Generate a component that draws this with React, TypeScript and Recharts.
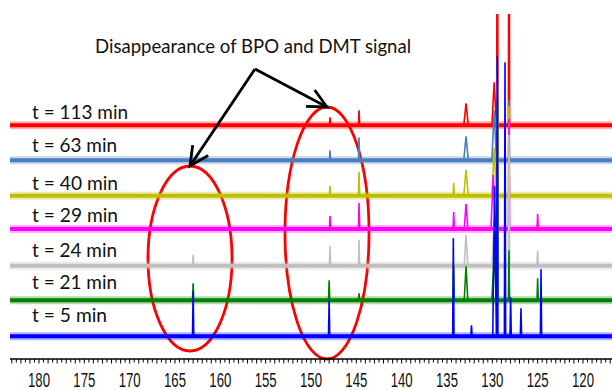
import React from 'react';
import {
  ComposedChart,
  Line,
  XAxis,
  YAxis,
  ReferenceArea,
  ReferenceLine,
  ReferenceDot,
} from 'recharts';

// ---- data ----
const SPECTRUM_NAMES = ['t = 113 min', 't = 63 min', 't = 40 min', 't = 29 min', 't = 24 min', 't = 21 min', 't = 5 min'];
const SPECTRUM_COLORS = ['#FF0000', '#4A7EBF', '#BFBF00', '#FF00FF', '#C0C0C0', '#008000', '#0000FF'];
// stacking offsets (baseline of each trace, y units)
const BASELINES = [233.7, 198.7, 163.3, 130, 93.3, 58.7, 22.7];

// peaks: [ppm, height, half line width in ppm]
const PEAKS_113 = [[147.9, 8, 0.07], [144.7, 15, 0.07], [132.9, 22, 0.25], [129.8, 43, 0.25], [129.45, 400, 0.07], [128.16, 400, 0.07]];
const PEAKS_63 = [[147.9, 10, 0.07], [144.7, 23, 0.07], [132.9, 24, 0.25], [129.8, 50, 0.25], [129.45, 100, 0.07], [128.16, 60, 0.07]];
const PEAKS_40 = [[147.9, 10, 0.07], [144.7, 24, 0.07], [134.26, 13, 0.07], [132.9, 26, 0.25], [129.8, 48, 0.25], [129.45, 120, 0.07], [128.16, 90, 0.07]];
const PEAKS_29 = [[147.9, 13, 0.07], [144.7, 26, 0.07], [134.26, 17, 0.07], [132.9, 25, 0.2], [129.9, 54, 0.25], [129.45, 150, 0.07], [128.16, 110, 0.07], [125.0, 15, 0.07]];
const PEAKS_24 = [[163.0, 11, 0.07], [147.9, 20, 0.07], [144.7, 26, 0.07], [132.9, 31, 0.2], [129.8, 46, 0.25], [129.45, 180, 0.07], [128.16, 131, 0.07], [125.0, 15, 0.07]];
const PEAKS_21 = [[163.0, 17, 0.07], [148.0, 20, 0.07], [144.7, 7, 0.07], [134.26, 34, 0.07], [132.9, 34, 0.2], [129.8, 45, 0.25], [129.45, 200, 0.07], [128.16, 50, 0.07], [125.0, 22, 0.07]];
const PEAKS_5 = [[163.0, 45, 0.07], [148.0, 36, 0.07], [134.3, 98, 0.07], [132.3, 11, 0.07], [129.75, 150, 0.2], [129.45, 280, 0.07], [128.6, 274, 0.07], [127.98, 39, 0.07], [126.84, 28, 0.07], [124.63, 67, 0.07]];
const PEAK_LISTS = [PEAKS_113, PEAKS_63, PEAKS_40, PEAKS_29, PEAKS_24, PEAKS_21, PEAKS_5];

const TICK_LABELS = [180, 175, 170, 165, 160, 155, 150, 145, 140, 135, 130, 125, 120];
const TITLE = 'Disappearance of BPO and DMT signal';

// ---- layout ----
const X_LEFT = 183.2;
const X_RIGHT = 116.8;
const Y_TOP = 345;
const LABEL_PPM = 180.77;
const LABEL_RAISE = [6, 8, 5.7, 7.3, 9, 11.3, 14];
const LABEL_LEN = [96, 85, 86, 86, 85, 85, 75];

const MINOR_TICKS: number[] = [];
for (let v = 117; v <= 183; v += 0.5) MINOR_TICKS.push(v);

function traceData(base: number, peaks: number[][]) {
  const sorted = [...peaks].sort((a, b) => b[0] - a[0]);
  const pts: { x: number; y: number }[] = [{ x: X_LEFT, y: base }];
  for (const [p, h, w] of sorted) {
    pts.push({ x: p + w, y: base }, { x: p, y: base + h }, { x: p - w, y: base });
  }
  pts.push({ x: X_RIGHT, y: base });
  return pts;
}

function bandData(base: number) {
  return [
    { x: X_LEFT, y: base },
    { x: X_RIGHT, y: base },
  ];
}

const AxisTick = (props: any) => {
  const { x, y, payload } = props;
  const v = payload.value;
  const labeled = TICK_LABELS.includes(v);
  return (
    <g>
      <line x1={x} x2={x} y1={y} y2={y + (Number.isInteger(v) ? 4.5 : 3.5)} stroke="#000" strokeWidth={1} />
      {labeled && (
        <text
          x={x}
          y={y + 28}
          textAnchor="middle"
          fontFamily="'Liberation Sans', Arial, sans-serif"
          fontSize={20.5}
          textLength={22}
          lengthAdjust="spacingAndGlyphs"
          fill="#111"
        >
          {v}
        </text>
      )}
    </g>
  );
};

const EllipseShape = (props: any) => {
  const { x, y, width, height } = props;
  return (
    <ellipse
      cx={x + width / 2}
      cy={y + height / 2}
      rx={width / 2}
      ry={height / 2}
      fill="none"
      stroke="#FF0000"
      strokeWidth={2.8}
    />
  );
};

const ArrowShape = (props: any) => {
  const { x1, y1, x2, y2 } = props;
  const ang = Math.atan2(y2 - y1, x2 - x1);
  const L = 21;
  const s = 0.46;
  const b1x = x2 + L * Math.cos(ang + Math.PI - s);
  const b1y = y2 + L * Math.sin(ang + Math.PI - s);
  const b2x = x2 + L * Math.cos(ang + Math.PI + s);
  const b2y = y2 + L * Math.sin(ang + Math.PI + s);
  return (
    <g>
      <line x1={x1} y1={y1} x2={x2} y2={y2} stroke="#000" strokeWidth={2.8} />
      <polyline points={`${b1x},${b1y} ${x2},${y2} ${b2x},${b2y}`} fill="none" stroke="#000" strokeWidth={2.8} />
    </g>
  );
};

const makeText = (text: string, len: number) => (props: any) => (
  <text
    x={props.cx}
    y={props.cy}
    fontFamily="Lato, 'Open Sans', sans-serif"
    fontSize={19}
    textLength={len}
    lengthAdjust="spacingAndGlyphs"
    fill="#111"
  >
    {text}
  </text>
);

export default function App() {
  return (
    <div style={{ position: 'absolute', left: 0, top: 0, background: '#fff' }}>
      <ComposedChart width={612} height={390} margin={{ top: 14, right: 0, bottom: 0, left: 10 }}>
        <XAxis
          type="number"
          dataKey="x"
          domain={[X_RIGHT, X_LEFT]}
          reversed
          allowDataOverflow
          ticks={MINOR_TICKS}
          interval={0}
          tick={<AxisTick />}
          tickLine={false}
          tickSize={0}
          tickMargin={0}
          height={31}
          axisLine={{ stroke: '#000', strokeWidth: 1.5 }}
        />
        <YAxis type="number" dataKey="y" domain={[0, Y_TOP]} allowDataOverflow hide />
        {SPECTRUM_NAMES.map((name, i) => (
          <Line
            key={name + '-halo'}
            data={bandData(BASELINES[i])}
            dataKey="y"
            stroke={SPECTRUM_COLORS[i]}
            strokeOpacity={0.3}
            strokeWidth={8}
            dot={false}
            activeDot={false}
            isAnimationActive={false}
          />
        ))}
        {SPECTRUM_NAMES.map((name, i) => [
          <Line
            key={name + '-band'}
            data={bandData(BASELINES[i])}
            dataKey="y"
            stroke={SPECTRUM_COLORS[i]}
            strokeWidth={4}
            dot={false}
            activeDot={false}
            isAnimationActive={false}
          />,
          <Line
            key={name + '-peaks'}
            data={traceData(BASELINES[i], PEAK_LISTS[i])}
            dataKey="y"
            stroke={SPECTRUM_COLORS[i]}
            strokeWidth={1.6}
            dot={false}
            activeDot={false}
            isAnimationActive={false}
          />,
        ])}
        {SPECTRUM_NAMES.map((name, i) => (
          <ReferenceDot
            key={name + '-label'}
            x={LABEL_PPM}
            y={BASELINES[i] + LABEL_RAISE[i]}
            r={0}
            ifOverflow="visible"
            shape={makeText(name, LABEL_LEN[i])}
          />
        ))}
        <ReferenceDot x={173.82} y={305.7} r={0} ifOverflow="visible" shape={makeText(TITLE, 316)} />
        <ReferenceArea x1={167.98} x2={158.71} y1={8} y2={193} ifOverflow="visible" shape={<EllipseShape />} />
        <ReferenceArea x1={152.87} x2={143.6} y1={0} y2={252} ifOverflow="visible" shape={<EllipseShape />} />
        <ReferenceLine
          segment={[{ x: 156.18, y: 290 }, { x: 163.35, y: 193 }]}
          ifOverflow="visible"
          shape={ArrowShape}
        />
        <ReferenceLine
          segment={[{ x: 156.18, y: 290 }, { x: 148.24, y: 252 }]}
          ifOverflow="visible"
          shape={ArrowShape}
        />
      </ComposedChart>
    </div>
  );
}
